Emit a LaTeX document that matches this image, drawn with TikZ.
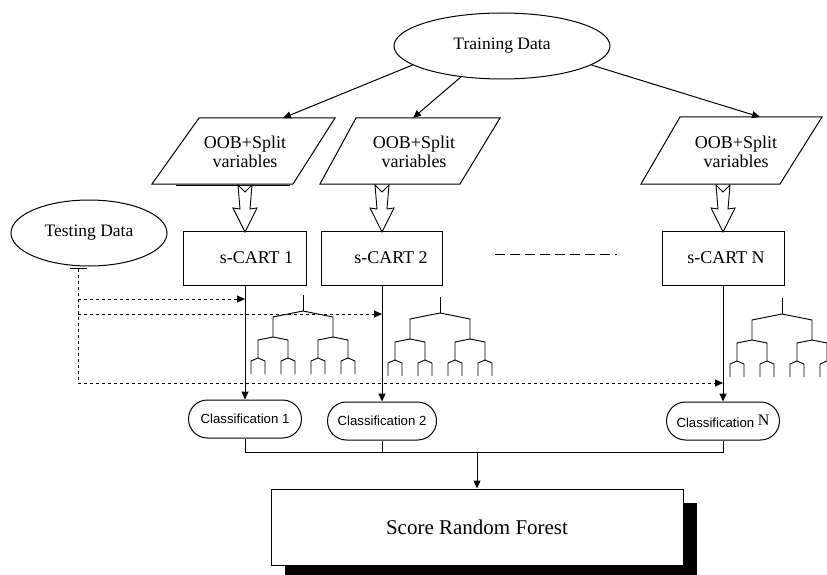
\documentclass[tikz,border=0pt]{standalone}
\usepackage{fontspec}
\setmainfont{Liberation Serif}
\setsansfont{Liberation Sans}
\usetikzlibrary{shapes.geometric,shapes.misc,arrows.meta,shadows}

\begin{document}
\begin{tikzpicture}[x=1pt,y=-1pt,
  line width=1pt,
  every node/.style={inner sep=0pt},
  tip/.style={-{Triangle[length=8pt,width=7pt]}},
  oval/.style={ellipse,draw,fill=white,font=\fontsize{17.5}{20}\selectfont},
  cartbox/.style={rectangle,draw,minimum height=54pt,font=\fontsize{18}{20}\selectfont},
  classbox/.style={rounded rectangle,draw,minimum height=38pt,font=\sffamily\fontsize{13.2}{15}\selectfont},
  ptext/.style={align=center,font=\fontsize{18}{19}\selectfont},
  dashlink/.style={dash pattern=on 3pt off 3pt,line width=0.9pt},
  treeline/.style={line width=0.9pt},
  hollow/.pic={\draw[line width=0.9pt,fill=white]
      (-7,0) -- (0,7) -- (7,0) -- (5,24) -- (12,23) -- (0,47)
      -- (-12,23) -- (-5,24) -- cycle;},
  cartree/.pic={
    \draw[treeline] (0,0) -- (0,16);
    \foreach \a in {-1,1}{
      \draw[treeline] (0,16) -- (30*\a,22) -- (30*\a,42);
      \foreach \b in {-1,1}{
        \draw[treeline] (30*\a,42) -- (30*\a+15*\b,45) -- (30*\a+15*\b,63);
        \foreach \c in {-1,1}{
          \draw[treeline] (30*\a+15*\b,63) -- (30*\a+15*\b+7*\c,66)
            -- (30*\a+15*\b+7*\c,79);
        }}}},
]
\useasboundingbox (0,0) rectangle (827,575);

% data sources
\node[oval,minimum width=216pt,minimum height=66pt] (train) at (502,46) {Training Data};
\node[oval,minimum width=156pt,minimum height=66pt] (test) at (89,233) {Testing Data};

% bootstrap samples (parallelograms)
\draw[fill=white] (199,118) -- (335,118) -- (293,184) -- (152,184) -- cycle;
\draw (176,185.5) -- (290,185.5);
\draw[fill=white] (356,118) -- (500,118) -- (460,184) -- (320,184) -- cycle;
\draw[fill=white] (680,117) -- (822,117) -- (780,184) -- (641,184) -- cycle;
\node[ptext] (p1) at (245,152) {OOB+Split\\variables};
\node[ptext] (p2) at (414,152) {OOB+Split\\variables};
\node[ptext] (p3) at (736,152) {OOB+Split\\variables};
\coordinate (p1in) at (283,118);
\coordinate (p2in) at (413,118);
\coordinate (p3in) at (760,117);

\draw[tip] (train.192) -- (p1in);
\draw[tip] (train.217) -- (p2in);
\draw[tip] (train.348) -- (p3in);

% s-CART trees
\node[cartbox,minimum width=123pt] (c1) at (244.5,258) {\hspace*{24pt}s-CART 1};
\node[cartbox,minimum width=121pt] (c2) at (381.5,258) {\hspace*{19pt}s-CART 2};
\node[cartbox,minimum width=122pt] (cN) at (723,258) {\hspace*{6pt}s-CART N};

\pic at (245,185) {hollow};
\pic at (382,185) {hollow};
\pic at (723,185) {hollow};

\coordinate (dotsL) at (495,254);
\coordinate (dotsR) at (617,254);
\draw[line width=0.9pt,dash pattern=on 10pt off 5pt] (dotsL) -- (dotsR);

\pic at (303,295) {cartree};
\pic at (440,297) {cartree};
\pic at (782,298) {cartree};

% classifications
\node[classbox,minimum width=113pt] (cl1) at (245,419) {Classification 1};
\node[classbox,minimum width=109pt] (cl2) at (382,421) {Classification 2};
\node[classbox,minimum width=113pt] (clN) at (723,421)
  {Classification {\rmfamily\fontsize{16}{16}\selectfont\raisebox{2pt}{N}}};

\draw[tip] (c1.south -| cl1.north) -- (cl1.north);
\draw[tip] (c2.south -| cl2.north) -- (cl2.north);
\draw[tip] (cN.south) -- (cN.south |- clN.north);

% testing data routed to every tree
\coordinate (tstart) at (78,268);
\coordinate (tcorner) at (78,383);
\coordinate (t1) at (78,299);
\coordinate (t2) at (78,314);
\draw[dashlink,{Bar[width=17pt,length=0pt]}-] (tstart) -- (tcorner);
\draw[dashlink,tip] (t1) -- (t1 -| cl1.north);
\draw[dashlink,tip] (t2) -- (t2 -| cl2.north);
\draw[dashlink,tip] (tcorner) -- (tcorner -| clN.north);

% final vote
\node[draw,fill=white,minimum width=412pt,minimum height=76pt,
  drop shadow={shadow xshift=14pt,shadow yshift=-14pt,fill=black,opacity=1},
  font=\fontsize{21}{24}\selectfont] (score) at (477,527) {Score Random Forest};
\coordinate (join) at (477,452);
\draw (cl1.south) -- (cl1.south |- join) -- (clN.south |- join) -- (clN.south);
\draw (cl2.south) -- (cl2.south |- join);
\draw[tip] (join) -- (score.north);
\end{tikzpicture}
\end{document}
